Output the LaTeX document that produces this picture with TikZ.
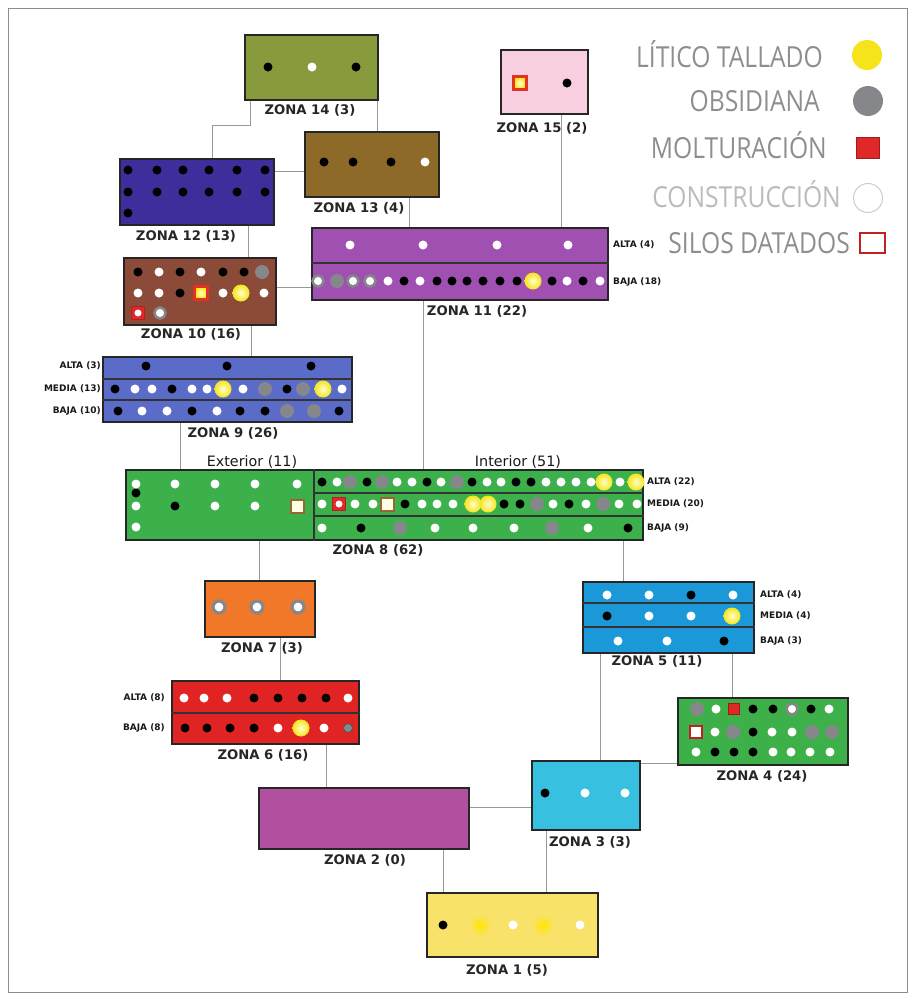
\documentclass[tikz,border=0pt]{standalone}
\usepackage{fontspec}
\setmainfont{DejaVu Sans}
\newfontfamily\legfont[FakeStretch=0.85]{Open Sans}
\definecolor{c14}{HTML}{879A3C}
\definecolor{c15}{HTML}{F7CFE0}
\definecolor{c13}{HTML}{8E6A28}
\definecolor{c12}{HTML}{3C2F9C}
\definecolor{c11}{HTML}{A050B0}
\definecolor{c10}{HTML}{8C4A38}
\definecolor{c9}{HTML}{5A6CC8}
\definecolor{c8}{HTML}{3CB04A}
\definecolor{c7}{HTML}{F07828}
\definecolor{c5}{HTML}{1B98D8}
\definecolor{c6}{HTML}{E02424}
\definecolor{c4}{HTML}{3EB04A}
\definecolor{c2}{HTML}{B0509F}
\definecolor{c3}{HTML}{38C0E0}
\definecolor{c1}{HTML}{F8E26A}
\definecolor{ysoft}{HTML}{FFE600}
\definecolor{obs}{HTML}{85878B}
\definecolor{lit}{HTML}{F5E41C}
\definecolor{mol}{HTML}{E02828}
\definecolor{legray}{HTML}{8E8E8E}
\definecolor{legrayl}{HTML}{BBBBBB}
\newcommand\dotrow[2]{\foreach \x/\s in {#2}{\node[\s] (d\x-#1) at (\x,#1) {};}}
\begin{document}
\begin{tikzpicture}[x=1pt,y=-1pt,
  zbox/.style={rectangle,draw=black!85,line width=1.4,inner sep=0},
  conn/.style={draw=black!40,line width=1},
  divl/.style={draw=black!80,line width=1.2},
  zlab/.style={font=\bfseries\fontsize{13.2}{15}\selectfont,text=black!85,inner sep=0},
  rlab/.style={font=\bfseries\fontsize{9}{10}\selectfont,text=black!90,inner sep=0},
  slab/.style={font=\fontsize{14.3}{16}\selectfont,text=black!90,inner sep=0},
  legt/.style={font=\legfont\fontsize{29}{32}\selectfont,text=legray,inner sep=0},
  dk/.style={circle,inner sep=0,minimum size=9,fill=black},
  wt/.style={circle,inner sep=0,minimum size=9,fill=white},
  gy/.style={circle,inner sep=0,minimum size=14,fill=obs},
  gys/.style={circle,inner sep=0,minimum size=9,fill=obs,draw=black!70,line width=0.6},
  wg/.style={circle,inner sep=0,minimum size=11,fill=white,draw=obs,line width=2.5},
  wgl/.style={circle,inner sep=0,minimum size=12,fill=white,draw=obs,line width=3.2},
  yl/.style={circle,inner sep=0,minimum size=17,inner color=white!80!yellow,outer color=lit},
  ys/.style={circle,inner sep=0,minimum size=22,inner color=ysoft,outer color=c1},
  sq/.style={rectangle,inner sep=0,minimum size=12,fill=white,draw=mol!85!black,line width=1.8},
  sqr/.style={rectangle,inner sep=0,minimum size=13,fill=mol,draw=mol!80!black,line width=1,
    path picture={\fill[white] (path picture bounding box.center) circle (3.5);}},
  sqy/.style={rectangle,inner sep=0,minimum size=13,draw=mol!90!orange,line width=2.2,
    inner color=white!85!yellow,outer color=yellow!80!orange},
  sqb/.style={rectangle,inner sep=0,minimum size=13,fill=white!90!yellow,draw=brown!80!black,line width=2},
  ml/.style={rectangle,inner sep=0,minimum size=11,fill=mol,draw=mol!70!black,line width=0.8}
]
\useasboundingbox (0,0) rectangle (914,999);
\draw[black!45,line width=0.8] (8,8) rectangle (907,992);

% ---------- zones ----------
\node[zbox,fill=c14,minimum width=133,minimum height=65] (z14) at (311.5,67.5) {};
\node[zbox,fill=c15,minimum width=87,minimum height=64] (z15) at (544.5,82) {};
\node[zbox,fill=c13,minimum width=134,minimum height=65] (z13) at (372,164.5) {};
\node[zbox,fill=c12,minimum width=154,minimum height=66] (z12) at (197,192) {};
\node[zbox,fill=c11,minimum width=296,minimum height=72] (z11) at (460,264) {};
\node[zbox,fill=c10,minimum width=152,minimum height=67] (z10) at (200,291.5) {};
\node[zbox,fill=c9,minimum width=249,minimum height=65] (z9) at (227.5,389.5) {};
\node[zbox,fill=c8,minimum width=517,minimum height=70] (z8) at (384.5,505) {};
\node[zbox,fill=c7,minimum width=110,minimum height=56] (z7) at (260,609) {};
\node[zbox,fill=c5,minimum width=171,minimum height=71] (z5) at (668.5,617.5) {};
\node[zbox,fill=c6,minimum width=187,minimum height=63] (z6) at (265.5,712.5) {};
\node[zbox,fill=c4,minimum width=170,minimum height=67] (z4) at (763,731.5) {};
\node[zbox,fill=c2,minimum width=210,minimum height=61] (z2) at (364,818.5) {};
\node[zbox,fill=c3,minimum width=108,minimum height=69] (z3) at (586,795.5) {};
\node[zbox,fill=c1,minimum width=171,minimum height=64] (z1) at (512.5,925) {};

% ---------- connectors ----------
\draw[conn] (z14.south -| 250,0) -- (250,125) -| (z12.north -| 212,0);
\draw[conn] (z14.south -| 377,0) -- (z13.north -| 377,0);
\draw[conn] (z12.east |- 0,171) -- (z13.west |- 0,171);
\draw[conn] (z13.south -| 409,0) -- (z11.north -| 409,0);
\draw[conn] (z15.south -| 561,0) -- (z11.north -| 561,0);
\draw[conn] (z12.south -| 248,0) -- (z10.north -| 248,0);
\draw[conn] (z10.east |- 0,287) -- (z11.west |- 0,287);
\draw[conn] (z10.south -| 251,0) -- (z9.north -| 251,0);
\draw[conn] (z11.south -| 423,0) -- (z8.north -| 423,0);
\draw[conn] (z9.south -| 180,0) -- (z8.north -| 180,0);
\draw[conn] (z8.south -| 259,0) -- (z7.north -| 259,0);
\draw[conn] (z8.south -| 623,0) -- (z5.north -| 623,0);
\draw[conn] (z7.south -| 280,0) -- (z6.north -| 280,0);
\draw[conn] (z5.south -| 600,0) -- (z3.north -| 600,0);
\draw[conn] (z5.south -| 732,0) -- (z4.north -| 732,0);
\draw[conn] (z4.west |- 0,763) -- (z3.east |- 0,763);
\draw[conn] (z6.south -| 326,0) -- (z2.north -| 326,0);
\draw[conn] (z2.east |- 0,807) -- (z3.west |- 0,807);
\draw[conn] (z2.south -| 443,0) -- (z1.north -| 443,0);
\draw[conn] (z3.south -| 546,0) -- (z1.north -| 546,0);

% ---------- dividers ----------
\draw[divl] (z11.west |- 0,263) -- (z11.east |- 0,263);
\draw[divl] (z9.west |- 0,379) -- (z9.east |- 0,379);
\draw[divl] (z9.west |- 0,400) -- (z9.east |- 0,400);
\draw[divl] (z8.north -| 314,0) -- (z8.south -| 314,0);
\draw[divl] (314,493) -- (z8.east |- 0,493);
\draw[divl] (314,516) -- (z8.east |- 0,516);
\draw[divl] (z5.west |- 0,603) -- (z5.east |- 0,603);
\draw[divl] (z5.west |- 0,627) -- (z5.east |- 0,627);
\draw[divl] (z6.west |- 0,713) -- (z6.east |- 0,713);

% ---------- dots ----------
\dotrow{67}{268/dk,312/wt,356/dk}
\dotrow{83}{520/sqy,567/dk}
\dotrow{162}{324/dk,353/dk,391/dk,425/wt}
\dotrow{170}{128/dk,157/dk,183/dk,209/dk,237/dk,265/dk}
\dotrow{192}{128/dk,157/dk,183/dk,209/dk,237/dk,265/dk}
\dotrow{213}{128/dk}
\dotrow{245}{350/wt,423/wt,497/wt,568/wt}
\dotrow{281}{337/gy,318/wg,353/wg,370/wg,388/wt,404/dk,420/wt,437/dk,452/dk,467/dk,483/dk,500/dk,517/dk,533/yl,552/dk,567/wt,583/dk,600/wt}
\dotrow{272}{138/dk,159/wt,180/dk,201/wt,223/dk,244/dk,262/gy}
\dotrow{293}{138/wt,159/wt,180/dk,201/sqy,223/wt,241/yl,264/wt}
\dotrow{313}{138/sqr,160/wg}
\dotrow{366}{146/dk,227/dk,311/dk}
\dotrow{389}{115/dk,135/wt,152/wt,172/dk,192/wt,207/wt,223/yl,243/wt,265/gy,287/dk,303/gy,323/yl,342/wt}
\dotrow{411}{118/dk,142/wt,167/wt,192/dk,217/wt,240/dk,265/dk,287/gy,314/gy,339/dk}
\dotrow{493}{136/dk}
\dotrow{484}{136/wt,175/wt,215/wt,255/wt,297/wt}
\dotrow{506}{136/wt,175/dk,215/wt,255/wt,297/sqb}
\dotrow{527}{136/wt}
\dotrow{482}{350/gy,382/gy,457/gy,322/dk,337/wt,367/dk,397/wt,412/wt,427/dk,441/wt,472/dk,487/wt,501/wt,516/dk,531/dk,546/wt,561/wt,576/wt,591/wt,604/yl,620/wt,636/yl}
\dotrow{504}{537/gy,603/gy,322/wt,339/sqr,355/wt,373/wt,387/sqb,405/dk,422/wt,437/wt,453/wt,473/yl,488/yl,504/dk,520/dk,553/wt,569/dk,586/wt,619/wt,637/wt}
\dotrow{528}{322/wt,361/dk,400/gy,435/wt,473/wt,514/wt,552/gy,588/wt,628/dk}
\dotrow{607}{219/wgl,257/wgl,298/wgl}
\dotrow{595}{607/wt,649/wt,691/dk,733/wt}
\dotrow{616}{607/dk,649/wt,691/wt,732/yl}
\dotrow{641}{618/wt,667/wt,724/dk}
\dotrow{698}{184/wt,204/wt,227/wt,254/dk,278/dk,302/dk,326/dk,348/wt}
\dotrow{728}{185/dk,207/dk,230/dk,254/dk,278/wt,301/yl,324/wt,348/gys}
\dotrow{709}{697/gy,716/wt,734/ml,753/dk,773/dk,792/wg,811/dk,829/wt}
\dotrow{732}{733/gy,812/gy,832/gy,696/sq,715/wt,753/dk,772/wt,792/wt}
\dotrow{752}{696/wt,715/dk,734/dk,753/dk,773/wt,791/wt,810/wt,830/wt}
\dotrow{793}{545/dk,585/wt,625/wt}
\dotrow{925}{480/ys,543/ys,443/dk,513/wt,580/wt}

% ---------- zone labels ----------
\node[zlab] (l14) at (310,110) {ZONA 14 (3)};
\node[zlab] (l15) at (542,128) {ZONA 15 (2)};
\node[zlab] (l13) at (359,208) {ZONA 13 (4)};
\node[zlab] (l12) at (186,236) {ZONA 12 (13)};
\node[zlab] (l11) at (477,311) {ZONA 11 (22)};
\node[zlab] (l10) at (191,334) {ZONA 10 (16)};
\node[zlab] (l9) at (233,433) {ZONA 9 (26)};
\node[zlab] (l8) at (378,550) {ZONA 8 (62)};
\node[zlab] (l7) at (262,648) {ZONA 7 (3)};
\node[zlab] (l5) at (657,661) {ZONA 5 (11)};
\node[zlab] (l6) at (263,755) {ZONA 6 (16)};
\node[zlab] (l4) at (762,776) {ZONA 4 (24)};
\node[zlab] (l2) at (365,860) {ZONA 2 (0)};
\node[zlab] (l3) at (590,842) {ZONA 3 (3)};
\node[zlab] (l1) at (507,970) {ZONA 1 (5)};
\node[slab] (lext) at (252,462) {Exterior (11)};
\node[slab] (lint) at (518,462) {Interior (51)};

% ---------- row labels ----------
\node[rlab,anchor=west] (r11a) at (613,245) {ALTA (4)};
\node[rlab,anchor=west] (r11b) at (613,282) {BAJA (18)};
\node[rlab,anchor=east] (r9a) at (101,366) {ALTA (3)};
\node[rlab,anchor=east] (r9m) at (101,389) {MEDIA (13)};
\node[rlab,anchor=east] (r9b) at (101,411) {BAJA (10)};
\node[rlab,anchor=west] (r8a) at (647,482) {ALTA (22)};
\node[rlab,anchor=west] (r8m) at (647,504) {MEDIA (20)};
\node[rlab,anchor=west] (r8b) at (647,528) {BAJA (9)};
\node[rlab,anchor=west] (r5a) at (760,595) {ALTA (4)};
\node[rlab,anchor=west] (r5m) at (760,616) {MEDIA (4)};
\node[rlab,anchor=west] (r5b) at (760,641) {BAJA (3)};
\node[rlab,anchor=east] (r6a) at (165,698) {ALTA (8)};
\node[rlab,anchor=east] (r6b) at (165,728) {BAJA (8)};

% ---------- legend ----------
\node[legt,anchor=base east] (lg1) at (823,67) {LÍTICO TALLADO};
\node[legt,anchor=base east] (lg2) at (820,111) {OBSIDIANA};
\node[legt,anchor=base east] (lg3) at (827,158) {MOLTURACIÓN};
\node[legt,anchor=base east,text=legrayl] (lg4) at (841,207) {CONSTRUCCIÓN};
\node[legt,anchor=base east] (lg5) at (850,253) {SILOS DATADOS};
\node[circle,inner sep=0,minimum size=30,fill=lit] (ls1) at (867,55) {};
\node[circle,inner sep=0,minimum size=30,fill=obs] (ls2) at (868,101) {};
\node[rectangle,inner sep=0,minimum width=23,minimum height=21,fill=mol,draw=mol!70!black,line width=1] (ls3) at (868,148) {};
\node[circle,inner sep=0,minimum size=29,fill=white,draw=black!20,line width=1] (ls4) at (868,198) {};
\node[rectangle,inner sep=0,minimum width=25,minimum height=20,draw=mol!85!black,line width=2] (ls5) at (872,243) {};
\end{tikzpicture}
\end{document}
